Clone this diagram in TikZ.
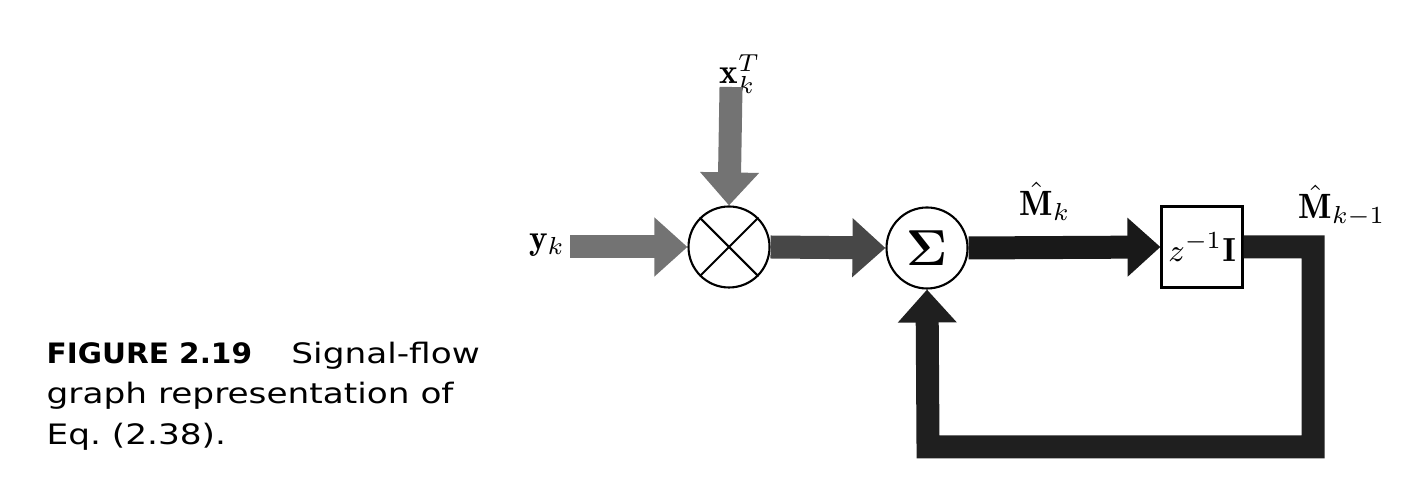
\documentclass[tikz,border=0pt]{standalone}
\usepackage{amsmath,amssymb}
\usepackage{fontspec}
\newfontfamily\capfont[FakeStretch=1.22,BoldFeatures={FakeStretch=1.05}]{DejaVu Sans}
\usepackage{tikz}
\usetikzlibrary{arrows.meta}

\tikzset{
  junction/.style={circle,draw,semithick,minimum size=0.81cm,inner sep=0pt},
  delaybox/.style={draw,semithick,minimum size=0.81cm,inner sep=0pt},
  fatarrow/.style={line width=0.23cm,-{Triangle[length=0.33cm,width=0.57cm]}},
  siglabel/.style={font=\fontsize{10}{12}\selectfont,inner sep=0pt},
  caption/.style={font=\capfont\fontsize{8}{11.6}\selectfont,align=left,inner sep=0pt}
}

\begin{document}
\begin{tikzpicture}
    \useasboundingbox (0,0) rectangle (14.04,5);
    % blocks
    \node[junction] (mult) at (7.29,2.53) {};
    \node[junction] (sig) at (9.27,2.52) {\fontsize{14}{16}\selectfont$\boldsymbol{\Sigma}$};
    \node[delaybox] (delay) at (12.02,2.53) {\fontsize{9.5}{11}\selectfont$z^{-1}\mathbf{I}$};
    \draw[semithick] (mult.45) -- (mult.225);
    \draw[semithick] (mult.135) -- (mult.315);
    % inputs
    \node[siglabel] (y) at (5.47,2.55) {$\mathbf{y}_k$};
    \node[siglabel] (x) at (7.40,4.26) {$\mathbf{x}_k^T$};
    \coordinate (yin) at (5.70,2.53);
    \coordinate (xin) at (7.31,4.13);
    \draw[fatarrow,black!55] (yin) -- (mult.west);
    \draw[fatarrow,black!55] (xin) -- (mult.north);
    \draw[fatarrow,black!72] (mult.east) -- (sig.west);
    \draw[fatarrow,black!90] (sig.east) -- (delay.west);
    % feedback loop
    \coordinate (fbtr) at (13.13,2.53);
    \coordinate (fbbr) at (13.13,0.53);
    \coordinate (fbbl) at (9.28,0.53);
    \draw[fatarrow,black!88,line join=miter] (delay.east) -- (fbtr) -- (fbbr) -- (fbbl) -- (sig.south);
    % labels
    \node[siglabel] (mk) at (10.45,2.99) {$\hat{\mathbf{M}}_k$};
    \node[siglabel] (mk1) at (13.42,2.94) {$\hat{\mathbf{M}}_{k-1}$};
    % caption
    \node[caption,anchor=north west] (cap) at (0.46,1.59)
      {\textbf{FIGURE 2.19}\hspace{1.4em}Signal-flow\\graph representation of\\Eq.\ (2.38).};
\end{tikzpicture}
\end{document}
